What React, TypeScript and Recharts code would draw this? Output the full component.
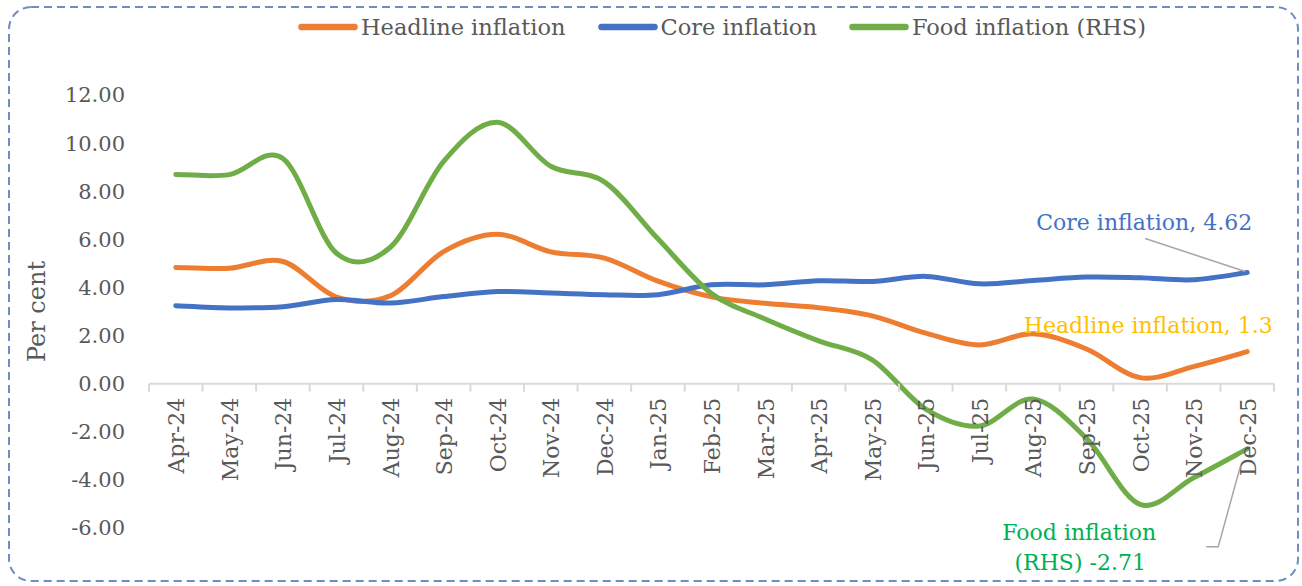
import React from 'react';
import { LineChart, Line, XAxis, YAxis, Legend, ReferenceLine } from 'recharts';

const months = ['Apr-24','May-24','Jun-24','Jul-24','Aug-24','Sep-24','Oct-24','Nov-24','Dec-24','Jan-25','Feb-25','Mar-25','Apr-25','May-25','Jun-25','Jul-25','Aug-25','Sep-25','Oct-25','Nov-25','Dec-25'];
const headline = [4.83, 4.80, 5.08, 3.60, 3.65, 5.49, 6.21, 5.48, 5.22, 4.26, 3.61, 3.34, 3.16, 2.82, 2.10, 1.61, 2.07, 1.44, 0.25, 0.71, 1.33];
const core = [3.24, 3.15, 3.20, 3.50, 3.35, 3.62, 3.83, 3.77, 3.70, 3.70, 4.11, 4.11, 4.28, 4.25, 4.46, 4.15, 4.29, 4.43, 4.40, 4.32, 4.62];
const food = [8.70, 8.69, 9.36, 5.42, 5.66, 9.24, 10.87, 9.04, 8.39, 6.02, 3.75, 2.69, 1.78, 0.99, -1.06, -1.76, -0.64, -2.28, -5.02, -3.91, -2.71];
const yTicks = [-6, -4, -2, 0, 2, 4, 6, 8, 10, 12];

const data = months.map((m, i) => ({ month: m, headline: headline[i], core: core[i], food: food[i] }));

const FONT = '"DejaVu Serif", serif';
const GREY = '#595959';
const ORANGE = '#ed7d31';
const BLUE = '#4472c4';
const GREEN = '#70ad47';

const W = 1302;
const H = 586;
const PLOT_TOP = 95;
const PLOT_BOTTOM = 528;
const PLOT_LEFT = 149;
const PLOT_RIGHT = 1274;
const LEGEND_H = 40;
const XAXIS_H = 30;
const YAXIS_W = 90;
const Y_MIN = -6;
const Y_MAX = 12;
const ZERO_SHIFT = (PLOT_BOTTOM - PLOT_TOP) * (0 - Y_MIN) / (Y_MAX - Y_MIN);
const BAND = (PLOT_RIGHT - PLOT_LEFT) / months.length;
const LAST = months.length - 1;

// Excel-like smoothing (Catmull-Rom style bezier)
function excelSmooth(context: any) {
  let pts: number[][] = [];
  return {
    areaStart() {},
    areaEnd() {},
    lineStart() { pts = []; },
    point(x: number, y: number) { pts.push([+x, +y]); },
    lineEnd() {
      const n = pts.length;
      if (!n) return;
      context.moveTo(pts[0][0], pts[0][1]);
      for (let i = 0; i < n - 1; i++) {
        const p0 = pts[i - 1] || pts[i];
        const p1 = pts[i];
        const p2 = pts[i + 1];
        const p3 = pts[i + 2] || p2;
        context.bezierCurveTo(
          p1[0] + (p2[0] - p0[0]) / 6, p1[1] + (p2[1] - p0[1]) / 6,
          p2[0] - (p3[0] - p1[0]) / 6, p2[1] - (p3[1] - p1[1]) / 6,
          p2[0], p2[1]
        );
      }
    },
  };
}

const XTick = (props: any) => {
  const { x, y, payload, index } = props;
  const zeroY = y - ZERO_SHIFT;
  return (
    <g>
      <line x1={x - BAND / 2} x2={x - BAND / 2} y1={zeroY} y2={zeroY + 8} stroke="#d9d9d9" strokeWidth={2} />
      {index === LAST && (
        <line x1={x + BAND / 2} x2={x + BAND / 2} y1={zeroY} y2={zeroY + 8} stroke="#d9d9d9" strokeWidth={2} />
      )}
      <text
        transform={`translate(${x + 1},${zeroY + 14}) rotate(-90)`}
        textAnchor="end"
        dominantBaseline="central"
        fill={GREY}
        fontSize={22}
        fontFamily={FONT}
      >
        {payload.value}
      </text>
    </g>
  );
};

const LegendContent = (props: any) => {
  const items = [
    { name: 'Headline inflation', color: ORANGE },
    { name: 'Core inflation', color: BLUE },
    { name: 'Food inflation (RHS)', color: GREEN },
  ];
  return (
    <div style={{ height: LEGEND_H, display: 'flex', alignItems: 'center', paddingLeft: 298, boxSizing: 'border-box' }}>
      {items.map((it, i) => (
        <div key={it.name} style={{ display: 'flex', alignItems: 'center', marginLeft: i === 0 ? 0 : 32 }}>
          <svg width={60} height={10} style={{ display: 'block' }}>
            <line x1={3.5} x2={56.5} y1={5} y2={5} stroke={it.color} strokeWidth={6.5} strokeLinecap="round" />
          </svg>
          <span style={{ marginLeft: 3, fontFamily: FONT, fontSize: 22.5, color: GREY, whiteSpace: 'nowrap', lineHeight: '40px' }}>{it.name}</span>
        </div>
      ))}
    </div>
  );
};

const coreLabel = (props: any) => {
  const { x, y, index } = props;
  if (index !== LAST) return <g />;
  return (
    <g>
      <line x1={x - 102} y1={y - 34} x2={x - 2} y2={y - 1} stroke="#a6a6a6" strokeWidth={1.5} />
      <text x={x - 103} y={y - 50} textAnchor="middle" dominantBaseline="central" fill={BLUE} fontSize={22} fontFamily={FONT}>
        Core inflation, 4.62
      </text>
    </g>
  );
};

const headlineLabel = (props: any) => {
  const { x, y, index } = props;
  if (index !== LAST) return <g />;
  return (
    <text x={x - 99} y={y - 26} textAnchor="middle" dominantBaseline="central" fill="#ffc000" fontSize={22} fontFamily={FONT}>
      Headline inflation, 1.3
    </text>
  );
};

const foodLabel = (props: any) => {
  const { x, y, index } = props;
  if (index !== LAST) return <g />;
  return (
    <g>
      <polyline
        points={`${x - 41},${y + 98} ${x - 29},${y + 98} ${x - 7},${y + 18}`}
        fill="none"
        stroke="#a6a6a6"
        strokeWidth={1.5}
      />
      <text x={x - 168} y={y + 84} textAnchor="middle" dominantBaseline="central" fill="#00b050" fontSize={22} fontFamily={FONT}>
        Food inflation
      </text>
      <text x={x - 167} y={y + 114} textAnchor="middle" dominantBaseline="central" fill="#00b050" fontSize={22} fontFamily={FONT}>
        (RHS) -2.71
      </text>
    </g>
  );
};

const YLabel = (props: any) => {
  const vb = props.viewBox || {};
  const cx = vb.x + 37 - (PLOT_LEFT - YAXIS_W);
  const cy = vb.y + vb.height / 2;
  return (
    <text
      transform={`translate(${cx},${cy}) rotate(-90)`}
      textAnchor="middle"
      dominantBaseline="central"
      fill={GREY}
      fontSize={24}
      fontFamily={FONT}
    >
      Per cent
    </text>
  );
};

export default function App() {
  return (
    <div style={{ position: 'absolute', left: 0, top: 0, width: W, height: H, background: '#fff' }}>
      <svg width={W} height={H} style={{ position: 'absolute', left: 0, top: 0 }}>
        <rect x={9} y={7} width={1289} height={574} rx={22} ry={22} fill="none" stroke="#6f8dc2" strokeWidth={2} strokeDasharray="8 5" />
      </svg>
      <div style={{ position: 'absolute', left: 0, top: 0 }}>
        <LineChart
          width={W}
          height={H}
          data={data}
          margin={{ top: PLOT_TOP - LEGEND_H, bottom: H - PLOT_BOTTOM - XAXIS_H, left: PLOT_LEFT - YAXIS_W, right: W - PLOT_RIGHT }}
        >
          <Legend verticalAlign="top" content={LegendContent} wrapperStyle={{ top: 7, left: 0, width: W }} />
          <XAxis
            dataKey="month"
            height={XAXIS_H}
            axisLine={false}
            tickLine={false}
            tickSize={0}
            tickMargin={0}
            interval={0}
            padding={{ left: BAND / 2, right: BAND / 2 }}
            tick={<XTick />}
          />
          <YAxis
            width={YAXIS_W}
            domain={[Y_MIN, Y_MAX]}
            ticks={yTicks}
            interval={0}
            axisLine={false}
            tickLine={false}
            tickSize={0}
            tickMargin={24}
            tickFormatter={(v: number) => v.toFixed(2)}
            tick={{ fill: GREY, fontSize: 21, fontFamily: FONT }}
            label={<YLabel />}
          />
          <ReferenceLine y={0} stroke="#d9d9d9" strokeWidth={2} />
          <Line dataKey="headline" name="Headline inflation" stroke={ORANGE} strokeWidth={5} type={excelSmooth as any} dot={false} activeDot={false} strokeLinecap="round" isAnimationActive={false} label={headlineLabel} />
          <Line dataKey="core" name="Core inflation" stroke={BLUE} strokeWidth={5} type={excelSmooth as any} dot={false} activeDot={false} strokeLinecap="round" isAnimationActive={false} label={coreLabel} />
          <Line dataKey="food" name="Food inflation (RHS)" stroke={GREEN} strokeWidth={5} type={excelSmooth as any} dot={false} activeDot={false} strokeLinecap="round" isAnimationActive={false} label={foodLabel} />
        </LineChart>
      </div>
    </div>
  );
}
